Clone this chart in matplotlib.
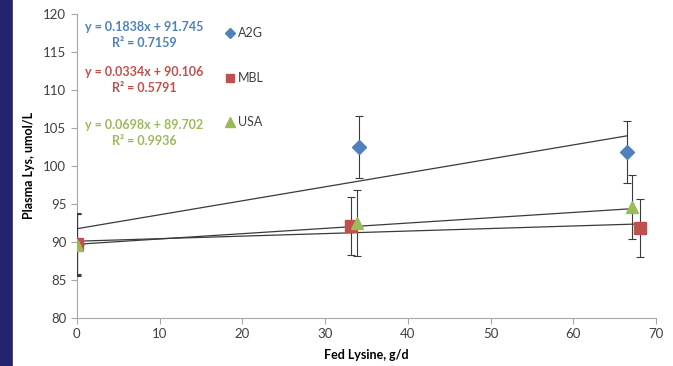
import matplotlib.pyplot as plt
from matplotlib.patches import FancyBboxPatch
from matplotlib.lines import Line2D

# data
series = ['A2G', 'MBL', 'USA']
fed_lys = {'A2G': [0, 34.1, 66.5], 'MBL': [0, 33.1, 68.0], 'USA': [0, 33.9, 67.1]}
plasma_lys = {'A2G': [89.7, 102.5, 101.8], 'MBL': [89.8, 92.1, 91.8], 'USA': [89.6, 92.5, 94.6]}
err = {'A2G': [4.0, 4.1, 4.1], 'MBL': [4.0, 3.8, 3.8], 'USA': [4.1, 4.3, 4.2]}
slope = {'A2G': 0.1838, 'MBL': 0.0334, 'USA': 0.0698}
intercept = {'A2G': 91.745, 'MBL': 90.106, 'USA': 89.702}
r2 = {'A2G': '0.7159', 'MBL': '0.5791', 'USA': '0.9936'}

colors = {'A2G': '#4F81BD', 'MBL': '#C0504D', 'USA': '#9BBB59'}
markers = {'A2G': 'D', 'MBL': 's', 'USA': '^'}
msize = {'A2G': 7, 'MBL': 8, 'USA': 9}

plt.rcParams['font.family'] = ['Lato', 'DejaVu Sans']

fig = plt.figure(figsize=(6.73, 3.66), dpi=100)
ax = fig.add_axes([0.114, 0.131, 0.861, 0.831])

# dark strip on the left edge
fig.patches.append(FancyBboxPatch((-0.02, -0.05), 0.038, 1.1, boxstyle='round,pad=0,rounding_size=0.03',
                                  transform=fig.transFigure, color='#25226E', zorder=0))

for s in series:
    x = fed_lys[s]
    # trendline
    xs = [0, max(x)]
    ax.plot(xs, [slope[s] * v + intercept[s] for v in xs], color='#3a3a3a', lw=0.9, zorder=2)
    ax.errorbar(x, plasma_lys[s], yerr=err[s], fmt='none', ecolor='#3a3a3a', elinewidth=0.8,
                capsize=3, capthick=0.8, zorder=3)
    ax.plot(x, plasma_lys[s], ls='none', marker=markers[s], ms=msize[s], color=colors[s], zorder=4)

# equations
eq_y = [0.957, 0.809, 0.635]
for s, yy in zip(series, eq_y):
    ax.text(0.117, yy, 'y = %sx + %s' % (slope[s], intercept[s]), transform=ax.transAxes,
            ha='center', va='center', color=colors[s], fontsize=9, fontweight='bold')
    ax.text(0.117, yy - 0.052, 'R² = %s' % r2[s], transform=ax.transAxes,
            ha='center', va='center', color=colors[s], fontsize=9, fontweight='bold')

handles = [Line2D([], [], ls='none', marker=markers[s], color=colors[s], ms=msize[s] - 2) for s in series]
ax.legend(handles, series, loc='upper left', bbox_to_anchor=(0.243, 0.972), frameon=False,
          fontsize=9, labelspacing=2.6, handletextpad=0.0, handlelength=1.2, borderaxespad=0,
          labelcolor='#404040')

ax.set_xlim(0, 70)
ax.set_ylim(80, 120)
ax.set_xticks(range(0, 71, 10))
ax.set_yticks(range(80, 121, 5))
for sp in ['top', 'right']:
    ax.spines[sp].set_visible(False)
for sp in ['left', 'bottom']:
    ax.spines[sp].set_color('#a6a6a6')
ax.tick_params(colors='#a6a6a6', labelcolor='#404040', labelsize=9.5, length=4)
ax.set_xlabel('Fed Lysine, g/d', fontsize=9, fontweight='bold', labelpad=6)
ax.set_ylabel('Plasma Lys, umol/L', fontsize=9, fontweight='bold', labelpad=6)

fig.savefig('out.png', dpi=100)
